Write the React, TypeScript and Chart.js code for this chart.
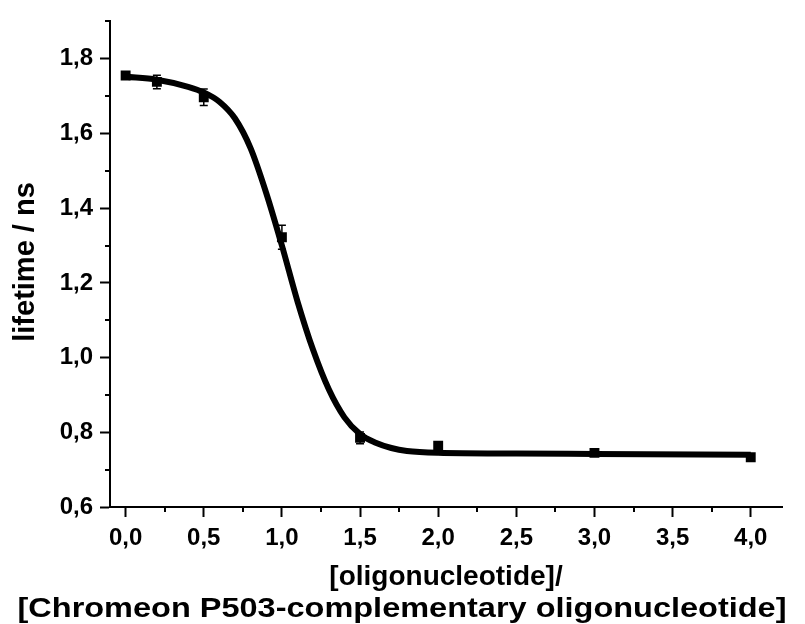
import { useEffect, useRef } from 'react';
import { Chart, registerables } from 'chart.js';

Chart.register(...registerables);

// Measured points (ratio, lifetime in ns) with error bars
const measuredX = [0, 0.2, 0.5, 1.0, 1.5, 2.0, 3.0, 4.0];
const measuredY = [1.755, 1.738, 1.697, 1.322, 0.785, 0.764, 0.745, 0.733];
const measuredErr = [0.008, 0.018, 0.022, 0.032, 0.016, 0.01, 0.005, 0.008];

// Fitted sigmoid curve
const fitX = [0, 0.2, 0.4, 0.5, 0.6, 0.7, 0.8, 0.9, 1.0, 1.1, 1.2, 1.3, 1.4, 1.5, 1.6, 1.7, 1.8, 2.0, 2.5, 3.0, 4.0];
const fitY = [1.752, 1.744, 1.725, 1.71, 1.685, 1.64, 1.56, 1.44, 1.3, 1.15, 1.02, 0.915, 0.84, 0.795, 0.772, 0.758, 0.75, 0.745, 0.743, 0.742, 0.74];

const xMinorTicks = [0.25, 0.75, 1.25, 1.75, 2.25, 2.75, 3.25, 3.75];
const yMinorTicks = [0.7, 0.9, 1.1, 1.3, 1.5, 1.7, 1.9];

const xTitleLines = ['[oligonucleotide]/', '[Chromeon P503-complementary oligonucleotide]'];
const yTitle = 'lifetime / ns';

const FONT = '"Liberation Sans", Arial, sans-serif';
const fmt = (v: number) => v.toFixed(1).replace('.', ',');

const extrasPlugin = {
  id: 'extras',
  afterDatasetsDraw(chart: any) {
    const ctx = chart.ctx;
    const xs = chart.scales.x;
    const ys = chart.scales.y;
    ctx.save();
    ctx.strokeStyle = '#000';
    ctx.lineWidth = 1.5;
    measuredX.forEach((xv, i) => {
      const px = xs.getPixelForValue(xv);
      const top = ys.getPixelForValue(measuredY[i] + measuredErr[i]);
      const bot = ys.getPixelForValue(measuredY[i] - measuredErr[i]);
      ctx.beginPath();
      ctx.moveTo(px, top);
      ctx.lineTo(px, bot);
      ctx.moveTo(px - 4, top);
      ctx.lineTo(px + 4, top);
      ctx.moveTo(px - 4, bot);
      ctx.lineTo(px + 4, bot);
      ctx.stroke();
    });
    ctx.restore();
  },
  afterDraw(chart: any) {
    const ctx = chart.ctx;
    const xs = chart.scales.x;
    const ys = chart.scales.y;
    const area = chart.chartArea;
    ctx.save();
    ctx.strokeStyle = '#000';
    ctx.lineWidth = 2;
    ctx.beginPath();
    xMinorTicks.forEach((v) => {
      const px = Math.round(xs.getPixelForValue(v));
      ctx.moveTo(px, area.bottom);
      ctx.lineTo(px, area.bottom + 5);
    });
    yMinorTicks.forEach((v) => {
      const py = Math.round(ys.getPixelForValue(v));
      ctx.moveTo(area.left, py);
      ctx.lineTo(area.left - 5, py);
    });
    ctx.stroke();

    ctx.fillStyle = '#000';
    ctx.textAlign = 'center';
    ctx.textBaseline = 'middle';
    ctx.font = `bold 28px ${FONT}`;
    ctx.fillText(xTitleLines[0], (area.left + area.right) / 2, 577);
    const w2 = ctx.measureText(xTitleLines[1]).width;
    const sx = Math.min(1.3, 769 / w2);
    ctx.save();
    ctx.translate(402, 609);
    ctx.scale(sx, 1);
    ctx.fillText(xTitleLines[1], 0, 0);
    ctx.restore();

    ctx.save();
    ctx.translate(26, 262);
    ctx.rotate(-Math.PI / 2);
    ctx.font = `bold 29px ${FONT}`;
    ctx.fillText(yTitle, 0, 0);
    ctx.restore();
    ctx.restore();
  },
};

export default function App() {
  const ref = useRef<HTMLCanvasElement>(null);
  useEffect(() => {
    if (!ref.current) return;
    const chart = new Chart(ref.current, {
      type: 'scatter',
      data: {
        datasets: [
          {
            label: 'measured',
            data: measuredX.map((x, i) => ({ x, y: measuredY[i] })),
            backgroundColor: '#000',
            borderColor: '#000',
            pointStyle: 'rect',
            pointRadius: 7,
            pointBorderWidth: 0,
            showLine: false,
            order: 0,
          },
          {
            label: 'fit',
            data: fitX.map((x, i) => ({ x, y: fitY[i] })),
            borderColor: '#000',
            backgroundColor: '#000',
            borderWidth: 6,
            pointRadius: 0,
            showLine: true,
            cubicInterpolationMode: 'monotone',
            order: 1,
          },
        ],
      },
      options: {
        animation: false,
        responsive: false,
        maintainAspectRatio: false,
        devicePixelRatio: 1,
        layout: { padding: { left: 0, right: 23, top: 12, bottom: 0 } },
        plugins: { legend: { display: false }, tooltip: { enabled: false } },
        scales: {
          x: {
            type: 'linear',
            min: -0.1,
            max: 4.2,
            afterFit: (s: any) => {
              s.height = 117;
            },
            border: { display: true, color: '#000', width: 2 },
            grid: { drawOnChartArea: false, drawTicks: true, tickLength: 10, tickWidth: 2, color: '#000' },
            ticks: {
              stepSize: 0.5,
              includeBounds: false,
              color: '#000',
              padding: 7,
              maxRotation: 0,
              font: { family: FONT, size: 24, weight: 'bold' },
              callback: (v: any) => fmt(Number(v)),
            },
          },
          y: {
            type: 'linear',
            min: 0.6,
            max: 1.9,
            afterFit: (s: any) => {
              s.width = 110;
            },
            border: { display: true, color: '#000', width: 2 },
            grid: { drawOnChartArea: false, drawTicks: true, tickLength: 10, tickWidth: 2, color: '#000' },
            ticks: {
              stepSize: 0.2,
              includeBounds: false,
              color: '#000',
              padding: 7,
              font: { family: FONT, size: 24, weight: 'bold' },
              callback: (v: any) => fmt(Number(v)),
            },
          },
        },
      },
      plugins: [extrasPlugin],
    } as any);
    return () => chart.destroy();
  }, []);
  return (
    <div style={{ position: 'absolute', left: 0, top: 0, width: 805, height: 624, background: '#fff' }}>
      <canvas ref={ref} width={805} height={624} style={{ display: 'block' }} />
    </div>
  );
}
